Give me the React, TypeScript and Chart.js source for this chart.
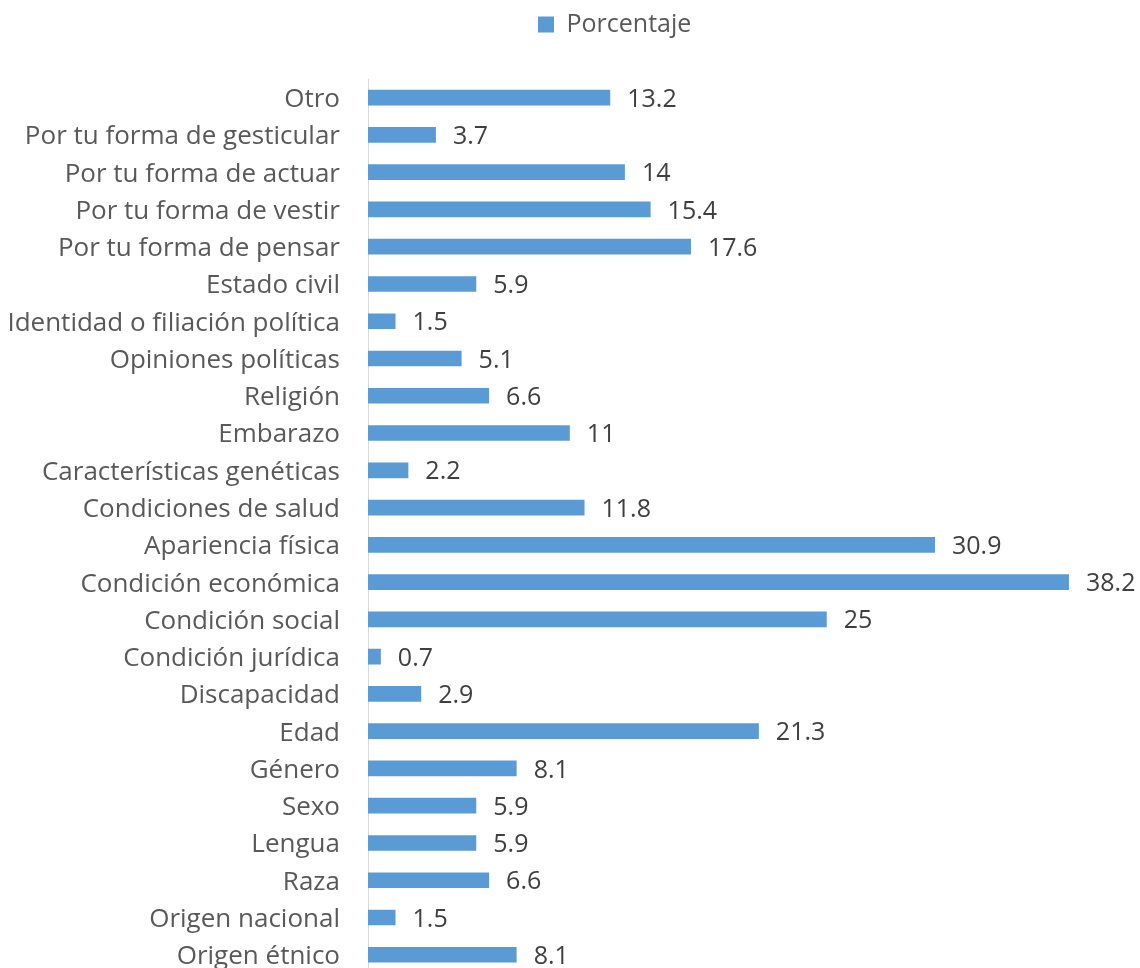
import React, { useEffect, useRef } from "react";
import { Chart, registerables } from "chart.js";

Chart.register(...registerables);

const categories: string[] = [
  "Otro",
  "Por tu forma de gesticular",
  "Por tu forma de actuar",
  "Por tu forma de vestir",
  "Por tu forma de pensar",
  "Estado civil",
  "Identidad o filiación política",
  "Opiniones políticas",
  "Religión",
  "Embarazo",
  "Características genéticas",
  "Condiciones de salud",
  "Apariencia física",
  "Condición económica",
  "Condición social",
  "Condición jurídica",
  "Discapacidad",
  "Edad",
  "Género",
  "Sexo",
  "Lengua",
  "Raza",
  "Origen nacional",
  "Origen étnico",
];

const values: number[] = [
  13.2, 3.7, 14, 15.4, 17.6, 5.9, 1.5, 5.1, 6.6, 11, 2.2, 11.8, 30.9, 38.2, 25,
  0.7, 2.9, 21.3, 8.1, 5.9, 5.9, 6.6, 1.5, 8.1,
];

const seriesName = "Porcentaje";
const axisMin = 0;
const axisMax = 40;

const FONT = "'Open Sans', Lato, sans-serif";
const TICK_SIZE = 26;
const LABEL_SIZE = 25;
const BAR_COLOR = "#5B9BD5";
const TEXT_COLOR = "#595959";
const LABEL_COLOR = "#404040";

export default function App() {
  const ref = useRef<HTMLCanvasElement>(null);

  useEffect(() => {
    if (!ref.current) return;

    const dataLabels = {
      id: "dataLabels",
      afterDatasetsDraw(chart: any) {
        const ctx = chart.ctx;
        const meta = chart.getDatasetMeta(0);
        ctx.save();
        ctx.font = `${LABEL_SIZE}px ${FONT}`;
        ctx.fillStyle = LABEL_COLOR;
        ctx.textAlign = "left";
        ctx.textBaseline = "middle";
        meta.data.forEach((el: any, i: number) => {
          ctx.fillText(String(values[i]), el.x + 17, el.y + 2);
        });
        ctx.restore();
      },
    };

    const legendPlace = {
      id: "legendPlace",
      afterLayout(chart: any) {
        const lg = chart.legend;
        if (!lg) return;
        const pad = 10;
        const w = lg.width;
        lg.left = 538 - pad;
        lg.right = lg.left + w + 40;
        lg.top = 12 - pad;
        lg.bottom = lg.top + 200;
      },
    };

    const chart = new Chart(ref.current, {
      type: "bar",
      data: {
        labels: categories,
        datasets: [
          {
            label: seriesName,
            data: values,
            backgroundColor: BAR_COLOR,
            borderWidth: 0,
            categoryPercentage: 1,
            barPercentage: 0.42,
          },
        ],
      },
      options: {
        indexAxis: "y",
        responsive: false,
        animation: false,
        devicePixelRatio: 1,
        layout: { padding: { left: 0, right: 38, top: 0, bottom: 0 } },
        plugins: {
          legend: {
            position: "chartArea",
            align: "start",
            labels: {
              boxWidth: 16,
              boxHeight: 16,
              padding: 10,
              color: TEXT_COLOR,
              font: { family: FONT, size: LABEL_SIZE },
            },
          },
          tooltip: { enabled: false },
        },
        scales: {
          x: {
            position: "top",
            min: axisMin,
            max: axisMax,
            ticks: { display: false },
            grid: { display: false, drawTicks: false },
            border: { display: false },
            afterFit: (s: any) => {
              s.height = 79;
            },
          },
          y: {
            ticks: {
              color: TEXT_COLOR,
              font: { family: FONT, size: TICK_SIZE },
              padding: 28,
              labelOffset: 2,
            },
            grid: { display: false, drawTicks: false },
            border: { display: true, color: "#D9D9D9", width: 1 },
            afterFit: (s: any) => {
              s.width = 368;
            },
          },
        },
      } as any,
      plugins: [dataLabels, legendPlace],
    });

    return () => chart.destroy();
  }, []);

  return (
    <div
      style={{
        position: "fixed",
        left: 0,
        top: 0,
        width: 1140,
        height: 968,
        overflow: "hidden",
        background: "#fff",
      }}
    >
      <canvas
        ref={ref}
        width={1140}
        height={1017}
        style={{ display: "block", width: 1140, height: 1017 }}
      />
    </div>
  );
}
